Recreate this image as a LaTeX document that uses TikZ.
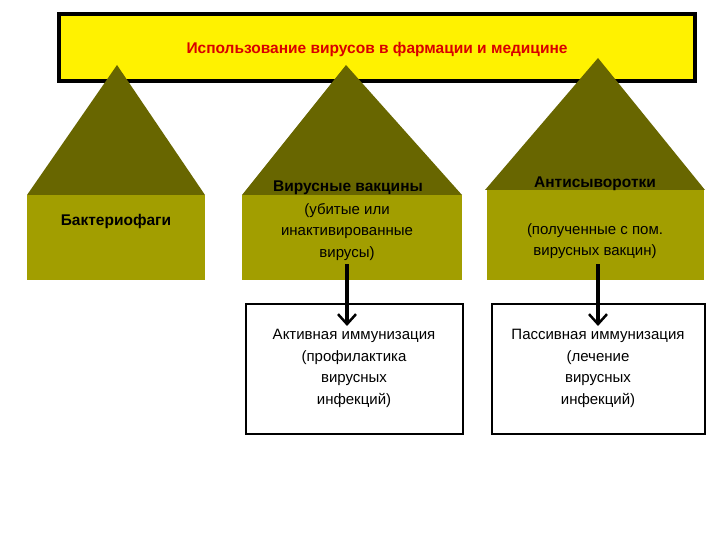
\documentclass[tikz,border=0pt]{standalone}
\usepackage{fontspec}
\setmainfont{Liberation Sans}
\usetikzlibrary{arrows.meta}
\definecolor{roof}{HTML}{686600}
\definecolor{wall}{HTML}{A29E00}
\begin{document}
\begin{tikzpicture}[x=1pt,y=-1pt,
  roofs/.style={fill=roof,draw=none},
  walls/.style={fill=wall,draw=none},
  lbox/.style={draw,line width=2pt,fill=white},
  txt/.style={font=\fontsize{15}{21.5}\selectfont,align=center},
  btxt/.style={font=\bfseries\fontsize{15.5}{19}\selectfont,align=center},
  arr/.style={line width=4pt,-{Straight Barb[length=10pt,width=18pt,line width=2.5pt]}}]
\useasboundingbox (0,0) rectangle (720,540);
\fill[white] (0,0) rectangle (720,540);
\node[draw,line width=4pt,fill=yellow,minimum width=636,minimum height=67,inner sep=0] (title) at (377,47.5) {};
\node[font=\bfseries\fontsize{15.5}{18}\selectfont,text=red!85!black] (tt) at (377,49) {Использование вирусов в фармации и медицине};
% houses
\fill[walls] (27,195) rectangle (205,280);
\fill[roofs] (117,65) -- (205,195) -- (27,195) -- cycle;
\fill[walls] (242,195) rectangle (462,280);
\fill[roofs] (346,65) -- (462,195) -- (242,195) -- cycle;
\fill[walls] (487,190) rectangle (704,280);
\fill[roofs] (598,58) -- (705,190) -- (485,190) -- cycle;
\node[btxt] (b1) at (116,221) {Бактериофаги};
\node[btxt] (b2) at (348,188) {Вирусные вакцины};
\node[txt] (b2s) at (347,232) {(убитые или\\инактивированные\\вирусы)};
\node[btxt] (b3) at (595,184) {Антисыворотки};
\node[txt] (b3s) at (595,241) {(полученные с пом.\\вирусных вакцин)};
\coordinate (a1) at (347,264);
\coordinate (a2) at (598,264);
\coordinate (e1) at (347,326);
\coordinate (e2) at (598,326);
% lower boxes
\node[lbox,minimum width=217,minimum height=130,inner sep=0] (l1) at (354,368.5) {};
\node[lbox,minimum width=213,minimum height=130,inner sep=0] (l2) at (598,368.5) {};
\node[txt,anchor=north] (l1t) at (354,326) {Активная иммунизация\\(профилактика\\вирусных\\инфекций)};
\node[txt,anchor=north] (l2t) at (598,326) {Пассивная иммунизация\\(лечение\\вирусных\\инфекций)};
\draw[arr] (a1) -- (e1);
\draw[arr] (a2) -- (e2);
\end{tikzpicture}
\end{document}
